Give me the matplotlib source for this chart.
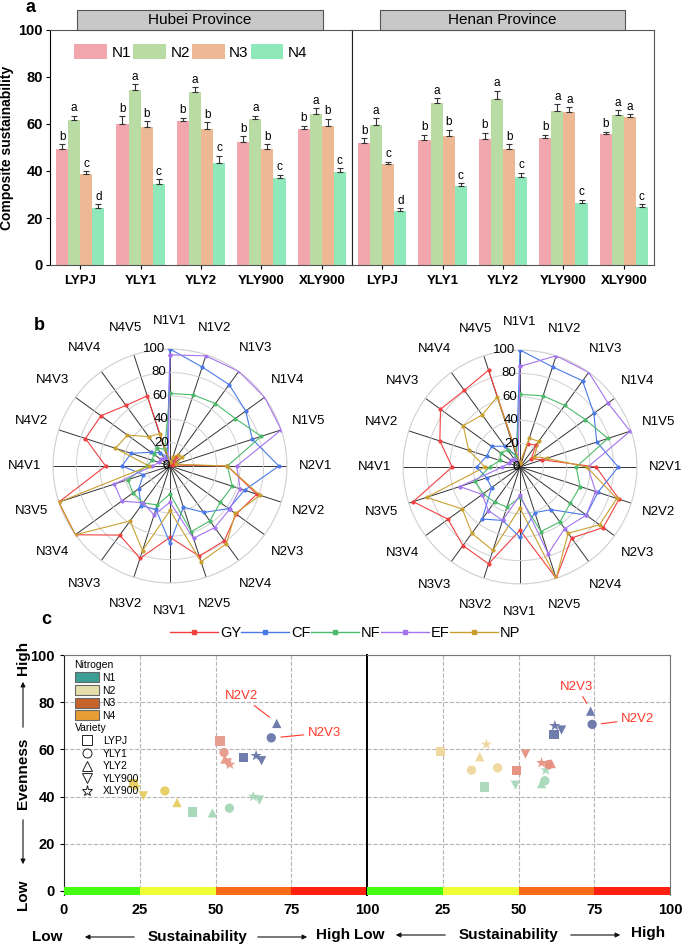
import numpy as np
import matplotlib
matplotlib.use('Agg')
import matplotlib.pyplot as plt
from matplotlib.patches import Patch, Rectangle, FancyArrowPatch
from matplotlib.lines import Line2D

plt.rcParams['font.family'] = ['Liberation Sans', 'DejaVu Sans']

# ---------------- data ----------------
varieties = ['LYPJ', 'YLY1', 'YLY2', 'YLY900', 'XLY900']
n_levels = ['N1', 'N2', 'N3', 'N4']

# panel a: composite sustainability (rows = variety, cols = N1..N4)
hubei_mean = [[49.5, 61.5, 38.7, 24.3],
              [60.2, 74.5, 58.8, 34.6],
              [61.2, 73.8, 57.8, 43.2],
              [52.3, 62.3, 49.2, 37.2],
              [57.8, 64.2, 59.0, 39.5]]
hubei_err = [[2.0, 2.0, 1.2, 1.5],
             [3.2, 2.5, 2.5, 1.8],
             [1.5, 1.8, 3.0, 3.3],
             [2.5, 1.2, 2.2, 1.3],
             [1.5, 2.5, 3.3, 1.8]]
hubei_sig = [['b', 'a', 'c', 'd'],
             ['b', 'a', 'b', 'c'],
             ['b', 'a', 'b', 'c'],
             ['b', 'a', 'b', 'c'],
             ['b', 'a', 'b', 'c']]
henan_mean = [[51.8, 59.6, 42.8, 23.1],
              [53.0, 68.8, 55.0, 33.8],
              [53.5, 70.6, 49.2, 37.4],
              [53.9, 65.5, 65.0, 26.5],
              [55.6, 63.8, 63.0, 24.7]]
henan_err = [[2.2, 2.8, 1.2, 1.0],
             [2.5, 2.3, 2.5, 1.0],
             [2.8, 3.5, 2.3, 1.8],
             [1.5, 3.0, 2.2, 1.2],
             [1.2, 2.0, 1.2, 1.2]]
henan_sig = [['b', 'a', 'c', 'd'],
             ['b', 'a', 'b', 'c'],
             ['b', 'a', 'b', 'c'],
             ['b', 'a', 'a', 'c'],
             ['b', 'a', 'a', 'c']]

# panel b: radar, N1V1..N4V5
spokes = ['N%dV%d' % (n, v) for n in range(1, 5) for v in range(1, 6)]
indicators = ['GY', 'CF', 'NF', 'EF', 'NP']
hubei_radar = {
    'GY': [2, 3, 9, 5, 3, 49, 78, 70, 79, 81, 61, 83, 73, 100, 100, 55, 76, 73, 64, 63],
    'CF': [100, 89, 86, 80, 74, 93, 67, 62, 49, 37, 66, 39, 42, 33, 24, 41, 35, 20, 14, 8],
    'NF': [62, 64, 66, 69, 82, 49, 56, 53, 58, 59, 24, 35, 39, 39, 38, 20, 16, 17, 19, 15],
    'EF': [95, 99, 100, 100, 100, 57, 63, 63, 65, 65, 31, 44, 39, 51, 50, 15, 10, 10, 8, 5],
    'NP': [3, 8, 12, 13, 5, 49, 81, 69, 82, 86, 38, 76, 58, 100, 100, 18, 49, 45, 31, 29],
}
henan_radar = {
    'GY': [3, 21, 23, 12, 20, 65, 89, 88, 75, 100, 54, 87, 83, 76, 96, 58, 72, 84, 81, 87],
    'CF': [100, 90, 91, 78, 69, 84, 70, 70, 45, 41, 60, 48, 55, 30, 30, 37, 30, 30, 22, 10],
    'NF': [62, 64, 65, 69, 79, 48, 54, 53, 58, 58, 26, 36, 37, 39, 40, 26, 18, 20, 18, 10],
    'EF': [86, 100, 100, 93, 99, 58, 68, 70, 65, 78, 24, 48, 46, 40, 54, 15, 10, 10, 8, 5],
    'NP': [3, 26, 27, 15, 24, 57, 87, 84, 70, 100, 35, 75, 70, 61, 84, 30, 46, 60, 55, 63],
}

# panel c: sustainability (x) vs evenness (y), per nitrogen group
var_markers = ['s', 'o', '^', 'v', '*']
hubei_x = {'N2': [59.3, 68.4, 70.2, 65.2, 63.4],
           'N1': [51.5, 52.8, 53.1, 53.9, 54.8],
           'N3': [42.4, 54.6, 49.0, 64.5, 62.5],
           'N4': [23.0, 33.3, 37.3, 26.2, 23.8]}
hubei_y = {'N2': [56.7, 64.9, 71.0, 55.2, 57.3],
           'N1': [63.5, 58.7, 55.9, 54.3, 53.6],
           'N3': [33.5, 35.1, 33.1, 38.5, 40.0],
           'N4': [45.5, 42.4, 37.5, 40.3, 44.1]}
henan_x = {'N2': [61.7, 74.3, 73.8, 64.2, 62.0],
           'N1': [49.4, 60.0, 60.8, 52.3, 57.6],
           'N3': [38.7, 58.7, 57.6, 49.0, 59.0],
           'N4': [24.2, 34.5, 37.2, 43.1, 39.4]}
henan_y = {'N2': [66.3, 70.6, 76.2, 68.2, 70.0],
           'N1': [51.1, 53.6, 54.0, 58.0, 54.3],
           'N3': [44.0, 46.7, 45.5, 44.8, 51.2],
           'N4': [59.0, 51.2, 56.9, 52.2, 62.1]}
henan_markers_n4 = ['s', 'o', '^', 'o', '*']

# ---------------- styles ----------------
bar_cols = ['#f2a6ad', '#b9dba4', '#edb994', '#8ee8b9']
line_cols = {'GY': '#f04040', 'CF': '#4a7ae8', 'NF': '#4cba6a', 'EF': '#a474ee', 'NP': '#c9a030'}
pt_cols_l = {'N2': '#6775a8', 'N1': '#e69a8b', 'N3': '#a6d6b8', 'N4': '#e6cd62'}
pt_cols_r = {'N2': '#6775a8', 'N1': '#e6907f', 'N3': '#a9d8ba', 'N4': '#f0d69c'}
legend_n_cols = ['#3b9f95', '#e6dfab', '#c6622c', '#e89d33']
band_cols = ['#44ff14', '#eeff38', '#f76a18', '#ff2010']
red_txt = '#ff3a2a'

W, H = 685, 947
def fx(px):
    return px / W
def fy(py):
    return 1 - py / H

fig = plt.figure(figsize=(6.85, 9.47), dpi=100)

# ================= panel a =================
x = np.arange(len(varieties))
bw = 0.2
offs = (np.arange(4) - 1.5) * bw
ax_hb = fig.add_axes([fx(50), fy(265), (352 - 50) / W, (265 - 30) / H])
ax_hn = fig.add_axes([fx(352), fy(265), (654 - 352) / W, (265 - 30) / H], sharey=ax_hb)

for ax, mean, err, sig in [(ax_hb, hubei_mean, hubei_err, hubei_sig),
                           (ax_hn, henan_mean, henan_err, henan_sig)]:
    mean = np.array(mean)
    err = np.array(err)
    for j in range(4):
        ax.bar(x + offs[j], mean[:, j], bw, color=bar_cols[j], label=n_levels[j])
        ax.errorbar(x + offs[j], mean[:, j], yerr=[np.zeros(5), err[:, j]], fmt='none',
                    ecolor='#333333', elinewidth=0.8, capsize=2.2, capthick=0.8)
        for i in range(5):
            ax.text(x[i] + offs[j], mean[i, j] + err[i, j] + 0.6, sig[i][j],
                    ha='center', va='bottom', fontsize=8.5)
    ax.set_xlim(-0.5, 4.5)
    ax.set_ylim(0, 100)
    ax.set_xticks(x)
    ax.set_xticklabels(varieties, fontweight='bold', fontsize=9.5)
    ax.tick_params(axis='x', length=3, pad=4)
    for s in ['top', 'right']:
        ax.spines[s].set_color('#555555')
    ax.spines['bottom'].set_color('#555555')

ax_hb.set_yticks([0, 20, 40, 60, 80, 100])
ax_hb.set_yticklabels(['0', '20', '40', '60', '80', '100'], fontweight='bold', fontsize=10.5)
ax_hb.tick_params(axis='y', length=3, pad=2)
ax_hb.set_ylabel('Composite sustainability', fontweight='bold', fontsize=10)
ax_hb.yaxis.set_label_coords(-0.118, 0.5)
ax_hb.spines['right'].set_color('#222222')
ax_hn.tick_params(axis='y', left=False, labelleft=False)
ax_hn.spines['left'].set_color('#222222')
ax_hb.legend(loc='upper left', bbox_to_anchor=(0.06, 0.965), ncol=4, frameon=False,
             fontsize=11, handlelength=2.15, handleheight=1.15, handletextpad=0.3,
             columnspacing=0.12, borderaxespad=0)

for left, right, title in [(77, 323, 'Hubei Province'), (380, 625, 'Henan Province')]:
    fig.add_artist(Rectangle((fx(left), fy(30)), (right - left) / W, 20 / H,
                             transform=fig.transFigure, fc='#c8c8c8', ec='#555555', lw=0.8))
    fig.text(fx((left + right) / 2), fy(20), title, ha='center', va='center', fontsize=11)

fig.text(fx(30), fy(7), 'a', fontweight='bold', fontsize=13, ha='center', va='center')

# ================= panel b =================
theta = np.arange(20) * 2 * np.pi / 20
R = 117
for cx, cy, data in [(170, 466, hubei_radar), (520, 467, henan_radar)]:
    ax = fig.add_axes([fx(cx - R), fy(cy + R), 2 * R / W, 2 * R / H], projection='polar')
    ax.set_theta_zero_location('N')
    ax.set_theta_direction(-1)
    for name in indicators:
        vals = np.array(data[name], dtype=float)
        ax.plot(np.append(theta, theta[0]), np.append(vals, vals[0]), color=line_cols[name],
                lw=0.8, marker='o', ms=2, zorder=3)
    ax.set_ylim(0, 100)
    ax.set_yticks([20, 40, 60, 80, 100])
    ax.set_yticklabels([])
    ax.set_xticks(theta)
    ax.set_xticklabels(spokes, fontsize=9.5)
    ax.tick_params(axis='x', pad=10)
    ax.xaxis.grid(True, color='#333333', lw=0.7)
    ax.yaxis.grid(True, color='#d0d0d0', lw=0.7)
    ax.spines['polar'].set_color('#d0d0d0')
    ax.spines['polar'].set_linewidth(0.7)
    for r in [0, 20, 40, 60, 80, 100]:
        ax.text(np.deg2rad(-2.5), r, str(r), ha='right', va='center', fontsize=9.5, zorder=4)

fig.text(fx(39), fy(325), 'b', fontweight='bold', fontsize=13, ha='center', va='center')

# ================= panel c =================
ax_l = fig.add_axes([fx(64), fy(895), 303 / W, 240 / H])
ax_r = fig.add_axes([fx(367), fy(895), 303 / W, 240 / H])

for ax, xs, ys, cols in [(ax_l, hubei_x, hubei_y, pt_cols_l), (ax_r, henan_x, henan_y, pt_cols_r)]:
    ax.set_xlim(0, 100)
    ax.set_ylim(-1.7, 100)
    ax.barh(0, 25, left=[0, 25, 50, 75], height=3.4, color=band_cols, zorder=3)
    ax.set_xticks([25, 50, 75], minor=False)
    ax.set_yticks([20, 40, 60, 80])
    ax.grid(True, ls='--', color='#b5b5b5', lw=0.8)
    ax.set_axisbelow(True)
    for grp in ['N4', 'N3', 'N1', 'N2']:
        mk = henan_markers_n4 if (ax is ax_r and grp == 'N4') else var_markers
        for k in range(5):
            sz = 70 if mk[k] == '*' else 45
            ax.scatter(xs[grp][k], ys[grp][k], marker=mk[k], s=sz, color=cols[grp],
                       edgecolors='none', alpha=0.95, zorder=4)
    for s in ['top', 'right']:
        ax.spines[s].set_color('#777777')
    ax.spines['bottom'].set_visible(False)

ax_l.set_xticks([0, 25, 50, 75, 100])
ax_l.set_xticklabels(['0', '25', '50', '75', '100'], fontweight='bold', fontsize=10.5)
ax_l.set_yticks([0, 20, 40, 60, 80, 100])
ax_l.set_yticklabels(['0', '20', '40', '60', '80', '100'], fontweight='bold', fontsize=10.5)
ax_l.spines['left'].set_color('#222222')
ax_l.spines['right'].set_color('#000000')
ax_l.spines['right'].set_linewidth(1.4)
ax_l.tick_params(axis='x', length=0, pad=6)
ax_l.tick_params(axis='y', length=3)

ax_r.set_xticks([25, 50, 75, 100])
ax_r.set_xticklabels(['25', '50', '75', '100'], fontweight='bold', fontsize=10.5)
ax_r.set_yticks([0, 20, 40, 60, 80, 100])
ax_r.tick_params(axis='y', left=False, labelleft=False)
ax_r.tick_params(axis='x', length=0, pad=6)
ax_r.spines['left'].set_color('#000000')
ax_r.spines['left'].set_linewidth(1.4)
ax_r.grid(True, ls='--', color='#b5b5b5', lw=0.8)

# highlighted points
lab_arrow = dict(arrowstyle='-', color=red_txt, lw=0.8, shrinkA=1, shrinkB=4)
ax_l.annotate('N2V2', xy=(69.3, 72.2), xytext=(58.6, 82.7), color=red_txt, fontsize=9.5,
              ha='center', va='center', arrowprops=lab_arrow)
ax_l.annotate('N2V3', xy=(69.8, 65.0), xytext=(86.0, 67.0), color=red_txt, fontsize=9.5,
              ha='center', va='center', arrowprops=lab_arrow)
ax_r.annotate('N2V3', xy=(73.5, 77.5), xytext=(69.2, 86.6), color=red_txt, fontsize=9.5,
              ha='center', va='center', arrowprops=lab_arrow)
ax_r.annotate('N2V2', xy=(75.5, 70.6), xytext=(89.3, 72.8), color=red_txt, fontsize=9.5,
              ha='center', va='center', arrowprops=lab_arrow)

# nitrogen / variety legends
n_handles = [Patch(fc=c, ec='#666666', lw=0.8) for c in legend_n_cols]
leg1 = ax_l.legend(n_handles, n_levels, title='Nitrogen', loc='upper left',
                   bbox_to_anchor=(0.035, 0.978), frameon=False, fontsize=7.5,
                   title_fontsize=7.5, handlelength=2.3, handleheight=1.1,
                   handletextpad=0.3, labelspacing=0.2, borderpad=0, borderaxespad=0,
                   alignment='left')
ax_l.add_artist(leg1)
v_handles = [Line2D([], [], ls='none', marker=m, mfc='none', mec='#222222', mew=0.7,
                    ms=8 if m == '*' else 6.5) for m in var_markers]
ax_l.legend(v_handles, varieties, title='Variety', loc='upper left',
            bbox_to_anchor=(0.035, 0.715), frameon=False, fontsize=7.5,
            title_fontsize=7.5, handlelength=2.3, handletextpad=0.4, labelspacing=0.25,
            borderpad=0, borderaxespad=0, alignment='left')

# radar legend
r_handles = [Line2D([], [], color=line_cols[n], lw=1.0, marker='s', ms=2.2) for n in indicators]
fig.legend(r_handles, indicators, loc='center', bbox_to_anchor=(fx(345), fy(633)), ncol=5,
           frameon=False, fontsize=10.5, handlelength=3.3, handletextpad=0.15,
           columnspacing=0.0)

# axis annotations
fig.text(fx(23), fy(658), 'High', rotation=90, fontweight='bold', fontsize=11,
         ha='center', va='center')
fig.text(fx(23), fy(773), 'Evenness', rotation=90, fontweight='bold', fontsize=11,
         ha='center', va='center')
fig.text(fx(23), fy(895), 'Low', rotation=90, fontweight='bold', fontsize=11,
         ha='center', va='center')
arr = dict(arrowstyle='-|>', color='#111111', lw=0.8, mutation_scale=7)
fig.add_artist(FancyArrowPatch((fx(23), fy(730)), (fx(23), fy(679)),
                               transform=fig.transFigure, **arr))
fig.add_artist(FancyArrowPatch((fx(23), fy(817)), (fx(23), fy(867)),
                               transform=fig.transFigure, **arr))

for low_x, a1, sus_x, a2, high_x, yy in [(47, (137, 82), 198, (255, 310), 333, 937),
                                          (369, (448, 393), 509, (568, 623), 648, 935)]:
    fig.text(fx(low_x), fy(yy), 'Low', fontweight='bold', fontsize=11, ha='center', va='center')
    fig.text(fx(sus_x), fy(yy), 'Sustainability', fontweight='bold', fontsize=11,
             ha='center', va='center')
    fig.text(fx(high_x), fy(yy - 2), 'High', fontweight='bold', fontsize=11,
             ha='center', va='center')
    fig.add_artist(FancyArrowPatch((fx(a1[0]), fy(yy)), (fx(a1[1]), fy(yy)),
                                   transform=fig.transFigure, **arr))
    fig.add_artist(FancyArrowPatch((fx(a2[0]), fy(yy)), (fx(a2[1]), fy(yy)),
                                   transform=fig.transFigure, **arr))

fig.text(fx(46), fy(619), 'c', fontweight='bold', fontsize=13, ha='center', va='center')

fig.savefig('out.png', dpi=100)
